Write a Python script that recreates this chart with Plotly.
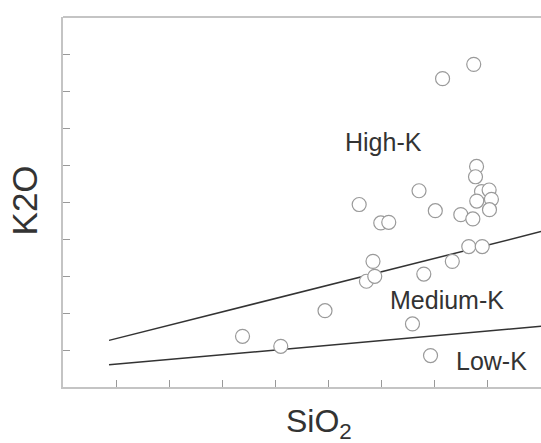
import plotly.graph_objects as go

# Sample data (SiO2 wt%, K2O wt%)
sio2 = [58.14, 60.30, 62.80, 65.14, 65.61, 65.51, 67.74, 68.76, 68.38, 69.99,
        70.92, 71.68, 64.73, 65.95, 66.40, 68.11, 69.03, 70.47, 71.15, 71.36,
        71.30, 71.64, 71.37, 72.07, 72.20, 72.09, 69.44, 71.20]
k2o = [0.685, 0.550, 1.031, 1.429, 1.496, 1.698, 0.852, 0.425, 1.526, 1.698,
       1.898, 1.898, 2.466, 2.217, 2.226, 2.652, 2.383, 2.329, 2.271, 2.981,
       2.841, 2.641, 2.513, 2.662, 2.536, 2.396, 4.167, 4.360]

# Series boundary lines
bound_x = [50.6, 75.0]
high_medium_bound = [0.63, 2.10]
medium_low_bound = [0.30, 0.82]

# Axis ticks (no labels shown)
x_ticks = [51, 54, 57, 60, 63, 66, 69, 72, 75]
y_ticks = [0.5, 1.0, 1.5, 2.0, 2.5, 3.0, 3.5, 4.0, 4.5]

# Field labels
field_labels = ["High-K", "Medium-K", "Low-K"]
field_x = [66.12, 69.71, 72.20]
field_y = [3.31, 1.18, 0.353]

line_col = "#333333"
axis_col = "#c4c4c4"
text_col = "#333333"

fig = go.Figure()
for by in [high_medium_bound, medium_low_bound]:
    fig.add_trace(go.Scatter(x=bound_x, y=by, mode="lines",
                             line=dict(color=line_col, width=1.5),
                             showlegend=False, hoverinfo="skip"))

fig.add_trace(go.Scatter(x=sio2, y=k2o, mode="markers",
                         marker=dict(symbol="circle", size=14, color="white",
                                     line=dict(color="#9a9a9a", width=1.2)),
                         showlegend=False))

for t, x, y in zip(field_labels, field_x, field_y):
    fig.add_annotation(x=x, y=y, text=t, showarrow=False,
                       font=dict(family="Liberation Sans, Arial", size=25, color=text_col),
                       xanchor="center", yanchor="middle")

fig.add_annotation(xref="paper", yref="paper", x=0.535, y=-0.039,
                   text="SiO<sub>2</sub>", showarrow=False, xanchor="center", yanchor="top",
                   font=dict(family="Liberation Sans, Arial", size=32, color=text_col))
fig.add_annotation(xref="paper", yref="paper", x=-0.036, y=0.505,
                   text="K2O", showarrow=False, textangle=-90,
                   xanchor="right", yanchor="middle",
                   font=dict(family="Liberation Sans, Arial", size=35, color=text_col))

# top border
fig.add_shape(type="line", xref="paper", yref="paper", x0=0, x1=1, y0=1, y1=1,
              line=dict(color=axis_col, width=2))

fig.update_xaxes(range=[48, 75], showgrid=False, zeroline=False,
                 showline=True, linecolor=axis_col, linewidth=2,
                 ticks="inside", tickvals=x_ticks, ticklen=7, tickwidth=1,
                 tickcolor="#999999", showticklabels=False)
fig.update_yaxes(range=[0, 5], showgrid=False, zeroline=False,
                 showline=True, linecolor=axis_col, linewidth=2,
                 ticks="inside", tickvals=y_ticks, ticklen=7, tickwidth=1,
                 tickcolor="#999999", showticklabels=False)

fig.update_layout(width=541, height=443,
                  margin=dict(l=63, r=0, t=17, b=56),
                  plot_bgcolor="white", paper_bgcolor="white")

fig.write_html("out.html", config={"displayModeBar": False},
               post_script="document.body.style.margin='0';document.body.style.padding='0';document.body.style.overflow='hidden';")
